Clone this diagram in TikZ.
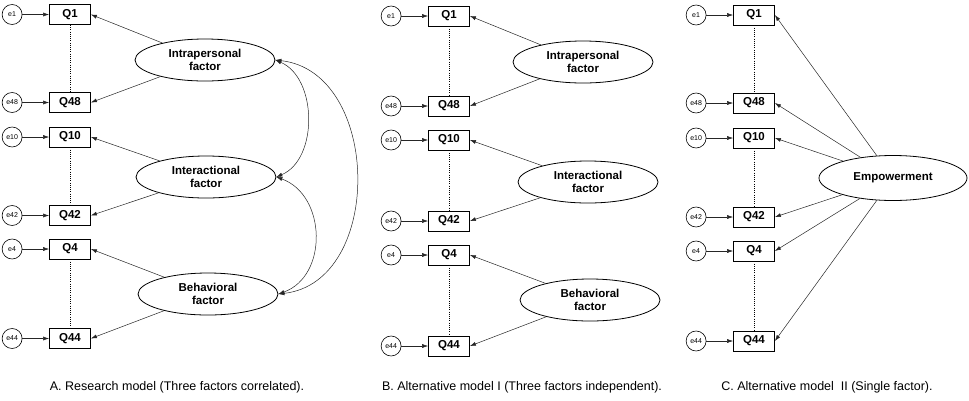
\documentclass[tikz,border=0pt]{standalone}
\usepackage{fontspec}
\setmainfont{Liberation Sans}
\usetikzlibrary{positioning,shapes.geometric,arrows.meta}

\begin{document}
\begin{tikzpicture}[x=1pt,y=-1pt]

\tikzstyle{obsbox}=[draw, line width=0.8pt, minimum width=41pt, minimum height=20pt, inner sep=0pt, font=\bfseries\fontsize{11.5}{12}\selectfont]
\tikzstyle{errcirc}=[draw, circle, line width=0.6pt, minimum size=20pt, inner sep=0pt, font=\fontsize{7}{7}\selectfont]
\tikzstyle{latent}=[draw, ellipse, line width=0.8pt, minimum width=140pt, minimum height=42pt, inner sep=0pt, align=center, font=\bfseries\fontsize{11.5}{13}\selectfont]
\tikzstyle{load}=[-{Latex[length=6pt,width=4pt]}, line width=0.5pt, black!85]
\tikzstyle{cov}=[{Latex[length=6pt,width=4pt]}-{Latex[length=6pt,width=4pt]}, line width=0.5pt, black!85]
\tikzstyle{chain}=[line width=1pt, dash pattern=on 1pt off 1.2pt]
\tikzstyle{caption}=[font=\fontsize{12.5}{13}\selectfont]

\useasboundingbox (0,0) rectangle (969,400);

% observed item with its error term
\newcommand{\obsvar}[4]{%
  \path (#3,#4) node (#1q#2) [obsbox] {Q#2};
  \path (#1q#2.west) + (-37,0) node (#1e#2) [errcirc] {e#2};
  \draw[load] (#1e#2) -- (#1q#2);}

\newcommand{\latentvar}[4]{\path (#2,#3) node (#1) [latent] {#4};}

% A. research model
\obsvar{a}{1}{70}{14.5}
\obsvar{a}{48}{70}{102.5}
\obsvar{a}{10}{70}{137}
\obsvar{a}{42}{70}{215.5}
\obsvar{a}{4}{70}{249}
\obsvar{a}{44}{70}{338.5}
\draw[chain] (aq1) -- (aq48);
\draw[chain] (aq10) -- (aq42);
\draw[chain] (aq4) -- (aq44);

\latentvar{aintra}{205}{60}{Intrapersonal\\factor}
\latentvar{ainter}{206}{177}{Interactional\\factor}
\latentvar{abehav}{208}{294}{Behavioral\\factor}

\draw[load] (aintra) -- (aq1.east);
\draw[load] (aintra) -- (aq48.east);
\draw[load] (ainter) -- (aq10.east);
\draw[load] (ainter) -- (aq42.east);
\draw[load] (abehav) -- (aq4.east);
\draw[load] (abehav) -- (aq44.east);

\draw[cov] (aintra.east) .. controls +(42,18) and +(42,-18) .. (ainter.east);
\draw[cov] (ainter.east) .. controls +(50,18) and +(50,-18) .. (abehav.east);
\draw[cov] (aintra.east) .. controls +(106,12) and +(106,-12) .. (abehav.east);

\path (177,387) node (capa) [caption] {A. Research model (Three factors correlated).};

% B. alternative model I
\obsvar{b}{1}{449}{16}
\obsvar{b}{48}{449}{106}
\obsvar{b}{10}{449}{140}
\obsvar{b}{42}{449}{221}
\obsvar{b}{4}{449}{255}
\obsvar{b}{44}{449}{346}
\draw[chain] (bq1) -- (bq48);
\draw[chain] (bq10) -- (bq42);
\draw[chain] (bq4) -- (bq44);

\latentvar{bintra}{583}{62}{Intrapersonal\\factor}
\latentvar{binter}{588}{182}{Interactional\\factor}
\latentvar{bbehav}{590}{300}{Behavioral\\factor}

\draw[load] (bintra) -- (bq1.east);
\draw[load] (bintra) -- (bq48.east);
\draw[load] (binter) -- (bq10.east);
\draw[load] (binter) -- (bq42.east);
\draw[load] (bbehav) -- (bq4.east);
\draw[load] (bbehav) -- (bq44.east);

\path (522,387) node (capb) [caption] {B. Alternative model I (Three factors independent).};

% C. alternative model II
\obsvar{c}{1}{754}{15}
\obsvar{c}{48}{754}{103}
\obsvar{c}{10}{754}{138}
\obsvar{c}{42}{754}{217}
\obsvar{c}{4}{754}{251}
\obsvar{c}{44}{754}{341}
\draw[chain] (cq1) -- (cq48);
\draw[chain] (cq10) -- (cq42);
\draw[chain] (cq4) -- (cq44);

\path (893,178) node (cemp) [latent, minimum width=148pt, minimum height=45pt] {Empowerment};

\foreach \q in {1,48,10,42,4,44}
  \draw[load] (cemp) -- (cq\q.east);

\path (827,387) node (capc) [caption] {C. Alternative model~~II (Single factor).};

\end{tikzpicture}
\end{document}
